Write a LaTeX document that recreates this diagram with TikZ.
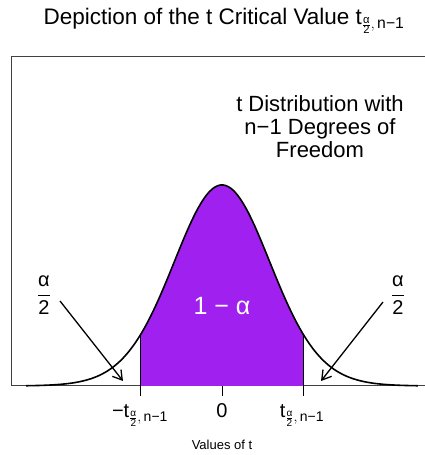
\documentclass[tikz,border=0pt]{standalone}
\usepackage{amsmath}
\usepackage{fontspec}
\setmainfont{Liberation Sans}
\usetikzlibrary{arrows.meta}
\definecolor{rpurple}{RGB}{160,32,240}
\newcommand{\tdf}{\ensuremath{_{\frac{\text{α}}{\text{2}},\,\text{n−1}}}}
\newcommand{\halfalpha}{\ensuremath{\displaystyle\frac{\text{α}}{\text{2}}}}

\begin{document}
\begin{tikzpicture}[x=1pt, y=1pt, line width=1pt,
    >={Straight Barb[length=9pt,width=11pt]},
    ticklbl/.style={anchor=base, inner sep=0pt, font=\fontsize{20}{22}\selectfont},
    bigtxt/.style={font=\fontsize{22}{23}\selectfont}]
    \useasboundingbox (0,0) rectangle (425,455);
    \node[font=\fontsize{22.5}{24}\selectfont] (title) at (224,434) {Depiction of the t Critical Value t\tdf};
    \draw[black!75] (425,398) -- (11,398) -- (11,69) -- (425,69);
    \begin{scope}[shift={(222,69)}, x=49pt, y=201pt]
        \fill[rpurple] (-1.67,0)
            -- plot[domain=-1.67:1.67,samples=60] (\x,{exp(-15.5*ln(1+\x*\x/30))})
            -- (1.67,0) -- cycle;
        \draw[line width=1.6pt]
            plot[domain=-4:4,samples=140] (\x,{exp(-15.5*ln(1+\x*\x/30))});
        \draw (-1.67,-0.05) -- (-1.67,0.2521);
        \draw (1.67,-0.05) -- (1.67,0.2521);
        \draw (0,-0.05) -- (0,0);
    \end{scope}
    \node[ticklbl] (lo) at (140,37) {−t\tdf};
    \node[ticklbl] (zero) at (222,37) {0};
    \node[ticklbl] (hi) at (302,37) {t\tdf};
    \node[font=\fontsize{13}{15}\selectfont] (xlab) at (222,10) {Values of t};
    \node[white, font=\fontsize{25}{27}\selectfont] (mass) at (222,149) {1 − α};
    \node[bigtxt, align=center] (legend) at (320,328) {t Distribution with\\n−1 Degrees of\\Freedom};
    \node[font=\fontsize{20}{22}\selectfont] (halfL) at (44,160) {\halfalpha};
    \node[font=\fontsize{20}{22}\selectfont] (halfR) at (398,160) {\halfalpha};
    \coordinate (tailL) at (60,154);
    \coordinate (headL) at (123,74);
    \coordinate (tailR) at (383,153);
    \coordinate (headR) at (321,74);
    \draw[->, line width=1.3pt] (tailL) -- (headL);
    \draw[->, line width=1.3pt] (tailR) -- (headR);
\end{tikzpicture}
\end{document}
